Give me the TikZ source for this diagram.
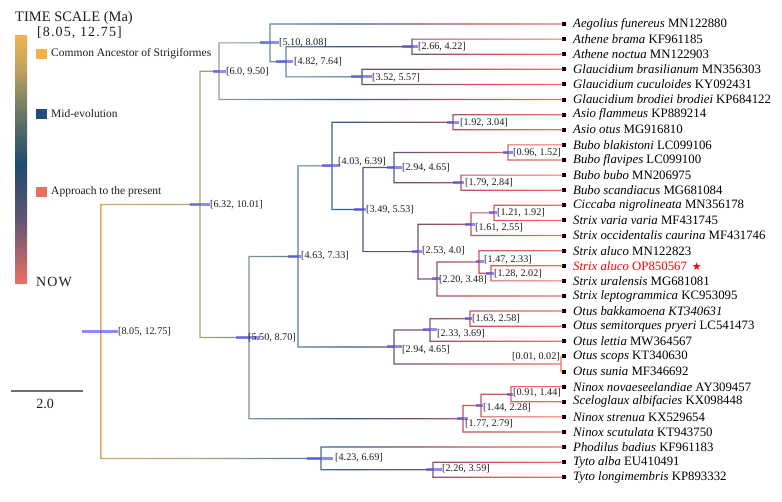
\documentclass[tikz,border=0pt]{standalone}
\usepackage{fontspec}
\setmainfont{Liberation Serif}
\newfontfamily\symfont{DejaVu Sans}
\usetikzlibrary{calc}
% branch colour stops (by time / x position)
\definecolor{g0}{RGB}{215,170,100}
\definecolor{g1}{RGB}{170,160,120}
\definecolor{g2}{RGB}{125,145,160}
\definecolor{g3}{RGB}{85,125,150}
\definecolor{g4}{RGB}{55,95,130}
\definecolor{g5}{RGB}{120,85,110}
\definecolor{g6}{RGB}{200,85,90}
\definecolor{g7}{RGB}{240,112,100}
% legend bar colours
\definecolor{k0}{RGB}{240,180,80}
\definecolor{k1}{RGB}{190,160,95}
\definecolor{k2}{RGB}{110,122,102}
\definecolor{k3}{RGB}{30,75,112}
\definecolor{k4}{RGB}{100,85,115}
\definecolor{k5}{RGB}{232,112,100}
\definecolor{sqorange}{RGB}{245,178,70}
\definecolor{sqblue}{RGB}{31,78,121}
\definecolor{sqsalmon}{RGB}{232,112,94}
\definecolor{hpdblue}{RGB}{80,80,235}
\definecolor{txt}{RGB}{30,30,30}
\definecolor{scalegray}{RGB}{110,110,110}
\pgfdeclarehorizontalshading{treegrad}{100bp}{color(0bp)=(g0); color(25.63bp)=(g0); color(36.05bp)=(g1); color(41.32bp)=(g2); color(46.58bp)=(g3); color(50.79bp)=(g4); color(59.21bp)=(g5); color(65.53bp)=(g6); color(74.16bp)=(g7); color(100bp)=(g7)}
\pgfdeclareverticalshading{legendgrad}{100bp}{color(0bp)=(k5); color(25bp)=(k5); color(37.7bp)=(k4); color(48.8bp)=(k3); color(59.9bp)=(k2); color(67.9bp)=(k1); color(75bp)=(k0); color(100bp)=(k0)}
\def\brw{0.6}
\newcommand\vb[3]{($(#1|-#2)+(-\brw,-\brw)$) rectangle ($(#1|-#3)+(\brw,\brw)$)}
\newcommand\hb[2]{($(#1|-#2)+(-\brw,-\brw)$) rectangle ($(#2)+(\brw,\brw)$)}
\newcommand\kids[3]{\vb{#1}{#2}{#3} \hb{#1}{#2} \hb{#1}{#3}}
\newcommand\leaf[3]{\coordinate (L#1) at (562,#2); \node[tipmark] (m#1) at (564,#2) {}; \node[leaf] (s#1) at (573,#2) {#3};}
\newcommand\hpdbar[5]{\draw[hpd] ($(#1)+(-#2,0)$) -- ($(#1)+(#3,0)$); \node[nl] (t#1) at #4 {#5};}
\tikzset{
  nl/.style={font=\fontsize{10.2}{11}\selectfont, inner sep=0pt, anchor=west, text=txt},
  leaf/.style={font=\fontsize{12.8}{14}\selectfont, inner sep=0pt, anchor=west, text=black},
  tipmark/.style={fill=black, inner sep=0pt, minimum size=4pt, draw=none},
  hpd/.style={draw=hpdblue, line width=3pt, draw opacity=0.65},
  legtxt/.style={font=\fontsize{11.5}{13}\selectfont, inner sep=0pt, anchor=west, text=txt},
  legsq/.style={inner sep=0pt, minimum width=11pt, minimum height=10pt, draw=none},
}
\begin{document}
\begin{tikzpicture}[x=1pt,y=-1pt]
\useasboundingbox (0,0) rectangle (782,501);
\fill[white] (0,0) rectangle (782,501);
% ---------------- legend ----------------
\node[anchor=west, inner sep=0pt, font=\fontsize{14.5}{16}\selectfont, text=txt] (title) at (15,18) {TIME SCALE (Ma)};
\node[anchor=west, inner sep=0pt, font=\fontsize{14}{16}\selectfont\addfontfeature{LetterSpace=8}, text=txt] (range) at (37,33) {[8.05, 12.75]};
\shade[shading=legendgrad] (15,35) rectangle (27,283);
\node[legsq, fill=sqorange, anchor=north west] (sq1) at (36,49) {};
\node[legtxt] (lg1) at (51,54) {Common Ancestor of Strigiformes};
\node[legsq, fill=sqblue, anchor=north west] (sq2) at (36,109) {};
\node[legtxt] (lg2) at (51,114) {Mid-evolution};
\node[legsq, fill=sqsalmon, anchor=north west] (sq3) at (36,187) {};
\node[legtxt] (lg3) at (51,192) {Approach to the present};
\node[anchor=west, inner sep=0pt, font=\fontsize{14}{16}\selectfont\addfontfeature{LetterSpace=8}, text=txt] (now) at (36,282) {NOW};
\coordinate (sbA) at (11,391);
\coordinate (sbB) at (83,391);
\draw[scalegray, line width=1.2pt] (sbA) -- (sbB);
\node[inner sep=0pt, font=\fontsize{14}{16}\selectfont, text=txt] (sbl) at (45,404) {2.0};
% ---------------- leaves ----------------
\leaf{0}{24.00}{\textit{Aegolius funereus} MN122880}
\leaf{1}{39.11}{\textit{Athene brama} KF961185}
\leaf{2}{54.22}{\textit{Athene noctua} MN122903}
\leaf{3}{69.33}{\textit{Glaucidium brasilianum} MN356303}
\leaf{4}{84.44}{\textit{Glaucidium cuculoides} KY092431}
\leaf{5}{99.55}{\textit{Glaucidium brodiei brodiei} KP684122}
\leaf{6}{114.66}{\textit{Asio flammeus} KP889214}
\leaf{7}{129.77}{\textit{Asio otus} MG916810}
\leaf{8}{144.88}{\textit{Bubo blakistoni} LC099106}
\leaf{9}{159.99}{\textit{Bubo flavipes} LC099100}
\leaf{10}{175.10}{\textit{Bubo bubo} MN206975}
\leaf{11}{190.21}{\textit{Bubo scandiacus} MG681084}
\leaf{12}{205.32}{\textit{Ciccaba nigrolineata} MN356178}
\leaf{13}{220.43}{\textit{Strix varia varia} MF431745}
\leaf{14}{235.54}{\textit{Strix occidentalis caurina} MF431746}
\leaf{15}{250.65}{\textit{Strix aluco} MN122823}
\leaf{16}{265.76}{\color{red}\textit{Strix aluco} OP850567\hspace{5pt}{\symfont\fontsize{11}{12}\selectfont ★}}
\leaf{17}{280.87}{\textit{Strix uralensis} MG681081}
\leaf{18}{295.98}{\textit{Strix leptogrammica} KC953095}
\leaf{19}{311.09}{\textit{Otus bakkamoena KT340631}}
\leaf{20}{326.20}{\textit{Otus semitorques pryeri} LC541473}
\leaf{21}{341.31}{\textit{Otus lettia} MW364567}
\leaf{22}{356.42}{\textit{Otus scops} KT340630}
\leaf{23}{371.53}{\textit{Otus sunia} MF346692}
\leaf{24}{386.64}{\textit{Ninox novaeseelandiae} AY309457}
\leaf{25}{401.75}{\textit{Sceloglaux albifacies} KX098448}
\leaf{26}{416.86}{\textit{Ninox strenua} KX529654}
\leaf{27}{431.97}{\textit{Ninox scutulata} KT943750}
\leaf{28}{447.08}{\textit{Phodilus badius} KF961183}
\leaf{29}{462.19}{\textit{Tyto alba} EU410491}
\leaf{30}{477.30}{\textit{Tyto longimembris} KP893332}
% ---------------- internal nodes ----------------
\coordinate (nA) at (412,46.665);
\coordinate (nG) at (362,76.885);
\coordinate (n482) at (286,61.775);
\coordinate (n510) at (270,42.89);
\coordinate (n600) at (219,71.22);
\coordinate (n192) at (453,122.215);
\coordinate (n096) at (508,152.435);
\coordinate (n179) at (461,182.655);
\coordinate (n294b) at (394,167.545);
\coordinate (n121) at (494,212.875);
\coordinate (n161) at (471,224.21);
\coordinate (n128) at (491,273.315);
\coordinate (n147) at (479,261.98);
\coordinate (n220) at (437,278.98);
\coordinate (n253) at (418,251.6);
\coordinate (n349) at (363,209.57);
\coordinate (n403) at (332,165.89);
\coordinate (n163) at (470,318.645);
\coordinate (n233) at (430,329.98);
\coordinate (n001) at (561,363.975);
\coordinate (n294o) at (394,346.98);
\coordinate (n463) at (298,256.435);
\coordinate (n091) at (511,394.195);
\coordinate (n144) at (481,405.53);
\coordinate (n177) at (463,418.75);
\coordinate (n550) at (249,337.59);
\coordinate (n632) at (200,204.405);
\coordinate (n226) at (433,469.745);
\coordinate (n423) at (321,458.41);
\coordinate (root) at (101,331.41);
% ---------------- branches (coloured by age) ----------------
\begin{scope}
\clip \kids{root}{n632}{n423}
      \kids{n632}{n600}{n550}
      \kids{n600}{n510}{L5}
      \kids{n510}{L0}{n482}
      \kids{n482}{nA}{nG}
      \kids{nA}{L1}{L2}
      \kids{nG}{L3}{L4}
      \kids{n550}{n463}{n177}
      \kids{n463}{n403}{n294o}
      \kids{n403}{n192}{n349}
      \kids{n192}{L6}{L7}
      \kids{n349}{n294b}{n253}
      \kids{n294b}{n096}{n179}
      \kids{n096}{L8}{L9}
      \kids{n179}{L10}{L11}
      \kids{n253}{n161}{n220}
      \kids{n161}{n121}{L14}
      \kids{n121}{L12}{L13}
      \kids{n220}{n147}{L18}
      \kids{n147}{L15}{n128}
      \kids{n128}{L16}{L17}
      \kids{n294o}{n233}{n001}
      \kids{n233}{n163}{L21}
      \kids{n163}{L19}{L20}
      \kids{n001}{L22}{L23}
      \kids{n177}{n144}{L27}
      \kids{n144}{n091}{L26}
      \kids{n091}{L24}{L25}
      \kids{n423}{L28}{n226}
      \kids{n226}{L29}{L30};
\shade[shading=treegrad] (95,0) rectangle (570,501);
\end{scope}
% ---------------- HPD bars and node labels ----------------
\hpdbar{root}{19}{17}{(118,332)}{[8.05, 12.75]}
\hpdbar{n632}{10}{10}{(210,205)}{[6.32, 10.01]}
\hpdbar{n600}{6}{7}{(226,72)}{[6.0, 9.50]}
\hpdbar{n510}{10}{9}{(279,43)}{[5.10, 8.08]}
\hpdbar{n482}{10}{7}{(294,62)}{[4.82, 7.64]}
\hpdbar{nA}{10}{6}{(418,47)}{[2.66, 4.22]}
\hpdbar{nG}{11}{10}{(372,78)}{[3.52, 5.57]}
\hpdbar{n192}{6}{6}{(460,123)}{[1.92, 3.04]}
\hpdbar{n403}{10}{8}{(338,162)}{[4.03, 6.39]}
\hpdbar{n294b}{7}{8}{(402,168)}{[2.94, 4.65]}
\hpdbar{n096}{5}{5}{(513,153)}{[0.96, 1.52]}
\hpdbar{n179}{8}{3}{(465,183)}{[1.79, 2.84]}
\hpdbar{n349}{9}{3}{(366,210)}{[3.49, 5.53]}
\hpdbar{n121}{5}{3}{(497,213)}{[1.21, 1.92]}
\hpdbar{n161}{6}{4}{(475,228)}{[1.61, 2.55]}
\hpdbar{n253}{6}{4}{(422,251)}{[2.53, 4.0]}
\hpdbar{n463}{10}{3}{(301,256)}{[4.63, 7.33]}
\hpdbar{n147}{3}{5}{(484,260)}{[1.47, 2.33]}
\hpdbar{n128}{5}{3}{(494,274)}{[1.28, 2.02]}
\hpdbar{n220}{5}{3}{(439,280)}{[2.20, 3.48]}
\hpdbar{n163}{5}{2}{(472,319)}{[1.63, 2.58]}
\hpdbar{n233}{7}{7}{(437,334)}{[2.33, 3.69]}
\hpdbar{n550}{13}{11}{(248,338)}{[5.50, 8.70]}
\hpdbar{n294o}{7}{8}{(402,350)}{[2.94, 4.65]}
\hpdbar{n091}{4}{2}{(513,393)}{[0.91, 1.44]}
\hpdbar{n144}{5}{2}{(483,408)}{[1.44, 2.28]}
\hpdbar{n177}{6}{5}{(465,424)}{[1.77, 2.79]}
\hpdbar{n423}{14}{12}{(335,458)}{[4.23, 6.69]}
\hpdbar{n226}{7}{9}{(442,469)}{[2.26, 3.59]}
\node[nl, anchor=east] (tn001) at (560,357) {[0.01, 0.02]};
\end{tikzpicture}
\end{document}
